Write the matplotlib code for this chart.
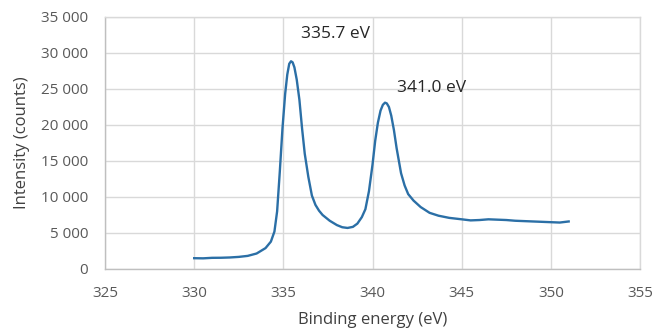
import matplotlib.pyplot as plt
from matplotlib.ticker import FuncFormatter, MultipleLocator

# --- spectrum ---
energy = [330.0, 330.5, 331.0, 331.5, 332.0, 332.5, 333.0, 333.5, 334.0, 334.3,
          334.5, 334.65, 334.8, 334.95, 335.1, 335.22, 335.33, 335.43, 335.52,
          335.62, 335.75, 335.9, 336.05, 336.2, 336.4, 336.6, 336.8, 337.0,
          337.2, 337.6, 338.0, 338.3, 338.6, 338.9, 339.15, 339.4, 339.6,
          339.8, 340.0, 340.15, 340.3, 340.45, 340.58, 340.7, 340.8, 340.92,
          341.05, 341.2, 341.35, 341.6, 341.8, 342.0, 342.3, 342.7, 343.2,
          343.7, 344.3, 345.0, 345.5, 346.0, 346.5, 347.0, 347.5, 348.0,
          348.5, 349.0, 349.5, 350.0, 350.5, 351.0]
counts = [1500, 1480, 1550, 1560, 1600, 1680, 1820, 2150, 2900, 3800,
          5200, 8000, 13500, 19500, 24300, 27000, 28500, 28850, 28700,
          28000, 26300, 23500, 19500, 16000, 12800, 10200, 8900, 8100,
          7500, 6700, 6100, 5800, 5700, 5850, 6300, 7200, 8300,
          10800, 14500, 17800, 20300, 22000, 22800, 23100, 23000, 22500,
          21300, 19300, 16800, 13300, 11600, 10400, 9500, 8600, 7800,
          7400, 7100, 6900, 6750, 6800, 6900, 6850, 6800, 6700,
          6650, 6600, 6550, 6500, 6450, 6600]

peak_labels = ["335.7 eV", "341.0 eV"]
label_pos = [(336.0, 32700), (341.4, 25100)]

plt.rcParams["font.family"] = ["Open Sans", "DejaVu Sans"]

fig = plt.figure(figsize=(6.54, 3.29), dpi=100)
ax = fig.add_axes([0.1606, 0.1824, 0.818, 0.766])

ax.plot(energy, counts, color="#2B6FA6", lw=1.7, solid_joinstyle="round")

for txt, (x, y) in zip(peak_labels, label_pos):
    ax.text(x, y, txt, fontsize=12.5, color="#262626", va="center", ha="left")

ax.set_xlim(325, 355)
ax.set_ylim(0, 35000)
ax.xaxis.set_major_locator(MultipleLocator(5))
ax.yaxis.set_major_locator(MultipleLocator(5000))
ax.yaxis.set_major_formatter(FuncFormatter(lambda v, p: f"{int(v):,}".replace(",", " ")))

ax.grid(True, color="#d9d9d9", lw=1.0)
ax.set_axisbelow(True)
for s in ax.spines.values():
    s.set_color("#d9d9d9")
    s.set_linewidth(1.0)
ax.spines["bottom"].set_color("#bfbfbf")
ax.spines["left"].set_color("#bfbfbf")

ax.tick_params(length=0, labelsize=11, colors="#595959")
ax.tick_params(axis="x", pad=12)
ax.tick_params(axis="y", pad=12)
ax.set_xlabel("Binding energy (eV)", fontsize=12, color="#404040", labelpad=8)
ax.set_ylabel("Intensity (counts)", fontsize=12, color="#404040", labelpad=8)

plt.savefig("out.png", dpi=100)
